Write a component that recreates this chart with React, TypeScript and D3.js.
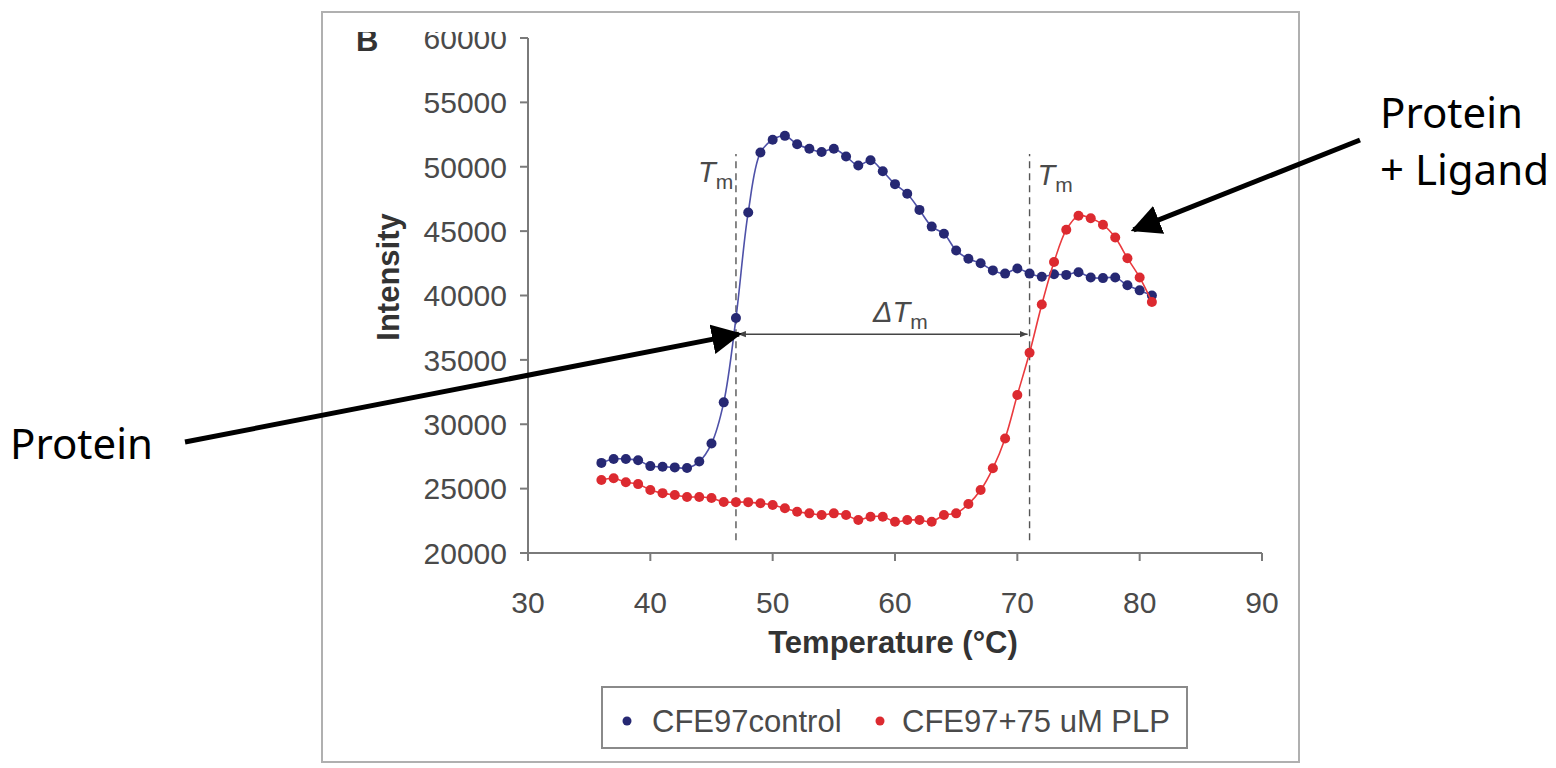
import React from 'react';
import * as d3 from 'd3';

// temperatures (°C), one reading per degree
const temps = d3.range(36, 82);

// CFE97control
const controlValues = [
  27000, 27300, 27300, 27200, 26750, 26700, 26650, 26600, 27100, 28500,
  31700, 38250, 46450, 51100, 52100, 52400, 51750, 51400, 51150, 51400,
  50800, 50100, 50500, 49650, 48650, 47900, 46650, 45350, 44800, 43500,
  42850, 42500, 41950, 41700, 42100, 41700, 41450, 41650, 41600, 41800,
  41400, 41350, 41400, 40800, 40400, 40000,
];

// CFE97+75 uM PLP
const plpValues = [
  25670, 25800, 25500, 25350, 24900, 24650, 24500, 24350, 24350, 24270,
  23960, 23950, 23950, 23860, 23730, 23470, 23210, 23080, 22950, 23080,
  22950, 22560, 22820, 22820, 22430, 22560, 22560, 22430, 22950, 23080,
  23800, 24890, 26580, 28900, 32270, 35550, 39300, 42600, 45100, 46200,
  46000, 45500, 44500, 42900, 41400, 39500,
];

const xTicks = [30, 40, 50, 60, 70, 80, 90];
const yTicks = [20000, 25000, 30000, 35000, 40000, 45000, 50000, 55000, 60000];
const tmTemps = [47, 71];
const tmSpan = [21000, 51000]; // dashed guide extent
const deltaLevel = 37000;
const ligandTip = [79.5, 45100];

const W = 1556;
const H = 768;

const x = d3.scaleLinear().domain([30, 90]).range([528, 1262]);
const y = d3.scaleLinear().domain([20000, 60000]).range([553, 38]);

const line = d3
  .line<number>()
  .x((_, i) => x(temps[i]))
  .y((d) => y(d))
  .curve(d3.curveCatmullRom.alpha(0.5));

const BLUE = '#262873';
const BLUE_LINE = '#4e51a8';
const RED = '#dc2a30';
const RED_LINE = '#ea3a3e';
const GRAY = '#7a7a7a';
const TXT = '#4a4a4a';
const FONT = '"Liberation Sans", Arial, sans-serif';
const ANN_FONT = '"Noto Sans", "Open Sans", sans-serif';

const Series = ({ values, dot, stroke }: { values: number[]; dot: string; stroke: string }) => (
  <g>
    <path d={line(values) || ''} fill="none" stroke={stroke} strokeWidth={1.6} />
    {values.map((v, i) => (
      <circle key={i} cx={x(temps[i])} cy={y(v)} r={5} fill={dot} />
    ))}
  </g>
);

const Tm = ({ px, py }: { px: number; py: number }) => (
  <text x={px} y={py} fontFamily={FONT} fill={TXT}>
    <tspan fontStyle="italic" fontSize={29}>T</tspan>
    <tspan fontSize={21} dy={7}>m</tspan>
  </text>
);

export default function App() {
  const axisY = y(20000);
  const axisX = x(30);
  const [x1, x2] = tmTemps.map(x);
  const dy = y(deltaLevel);
  const proteinTip = [x(47) + 3, dy];
  const ligTip = [x(ligandTip[0]), y(ligandTip[1])];

  return (
    <svg width={W} height={H} style={{ position: 'absolute', left: 0, top: 0, background: '#fff' }}>
      <defs>
        <clipPath id="topclip">
          <rect x={0} y={32} width={W} height={H} />
        </clipPath>
        <marker id="dh" viewBox="0 0 10 10" refX={10} refY={5} markerWidth={8} markerHeight={8} orient="auto-start-reverse" markerUnits="userSpaceOnUse">
          <path d="M0,1 L10,5 L0,9 Z" fill="#444" />
        </marker>
        <marker id="big" viewBox="0 0 10 10" refX={9} refY={5} markerWidth={30} markerHeight={30} orient="auto" markerUnits="userSpaceOnUse">
          <path d="M0,0 L10,5 L0,10 Z" fill="#000" />
        </marker>
      </defs>

      {/* figure frame */}
      <rect x={322} y={12} width={977} height={750} fill="none" stroke="#b0b0b0" strokeWidth={2} />

      {/* axes */}
      <line x1={axisX} x2={x(90)} y1={axisY} y2={axisY} stroke={GRAY} strokeWidth={2} />
      <line x1={axisX} x2={axisX} y1={y(60000)} y2={axisY} stroke={GRAY} strokeWidth={2} />
      {xTicks.map((t) => (
        <g key={t}>
          <line x1={x(t)} x2={x(t)} y1={axisY} y2={axisY + 8} stroke={GRAY} strokeWidth={2} />
          <text x={x(t)} y={613} textAnchor="middle" fontFamily={FONT} fontSize={30} fill={TXT}>
            {t}
          </text>
        </g>
      ))}
      <g clipPath="url(#topclip)">
        {yTicks.map((t) => (
          <g key={t}>
            <line x1={axisX - 8} x2={axisX} y1={y(t)} y2={y(t)} stroke={GRAY} strokeWidth={2} />
            <text x={507} y={y(t)} dy="0.36em" textAnchor="end" fontFamily={FONT} fontSize={30} fill={TXT}>
              {t}
            </text>
          </g>
        ))}
        <text x={356} y={51} fontFamily={FONT} fontSize={31} fontWeight="bold" fill="#333">
          B
        </text>
      </g>

      <text x={893} y={653} textAnchor="middle" fontFamily={FONT} fontSize={31} fontWeight="bold" fill="#333">
        Temperature (°C)
      </text>
      <text transform="translate(399,277) rotate(-90)" textAnchor="middle" fontFamily={FONT} fontSize={31} fontWeight="bold" fill="#333">
        Intensity
      </text>

      {/* Tm guides */}
      {tmTemps.map((t) => (
        <line key={t} x1={x(t)} x2={x(t)} y1={y(tmSpan[0])} y2={y(tmSpan[1])} stroke="#555" strokeWidth={1.4} strokeDasharray="7,5" />
      ))}
      <Tm px={x1 - 38} py={182} />
      <Tm px={x2 + 8} py={185} />
      <line x1={x1 + 2} x2={x2 - 2} y1={dy} y2={dy} stroke="#444" strokeWidth={1.5} markerStart="url(#dh)" markerEnd="url(#dh)" />
      <text x={873} y={322} fontFamily={FONT} fill={TXT}>
        <tspan fontStyle="italic" fontSize={29}>ΔT</tspan>
        <tspan fontSize={21} dy={7}>m</tspan>
      </text>

      <Series values={controlValues} dot={BLUE} stroke={BLUE_LINE} />
      <Series values={plpValues} dot={RED} stroke={RED_LINE} />

      {/* legend */}
      <rect x={602} y={687} width={585} height={61} fill="#fff" stroke="#8a8a8a" strokeWidth={2} />
      <circle cx={627} cy={721} r={4.5} fill={BLUE} />
      <text x={652} y={732} fontFamily={FONT} fontSize={31} fill={TXT}>
        CFE97control
      </text>
      <circle cx={880} cy={721} r={4.5} fill={RED} />
      <text x={902} y={732} fontFamily={FONT} fontSize={31} fill={TXT}>
        CFE97+75 uM PLP
      </text>

      {/* annotations */}
      <text x={10} y={459} fontFamily={ANN_FONT} fontSize={42} fill="#000">
        Protein
      </text>
      <line x1={185} y1={442} x2={proteinTip[0]} y2={proteinTip[1]} stroke="#000" strokeWidth={5} markerEnd="url(#big)" />
      <text x={1380} y={128} fontFamily={ANN_FONT} fontSize={42} fill="#000">
        Protein
      </text>
      <text x={1380} y={185} fontFamily={ANN_FONT} fontSize={42} fill="#000">
        + Ligand
      </text>
      <line x1={1360} y1={140} x2={ligTip[0]} y2={ligTip[1]} stroke="#000" strokeWidth={5} markerEnd="url(#big)" />
    </svg>
  );
}
